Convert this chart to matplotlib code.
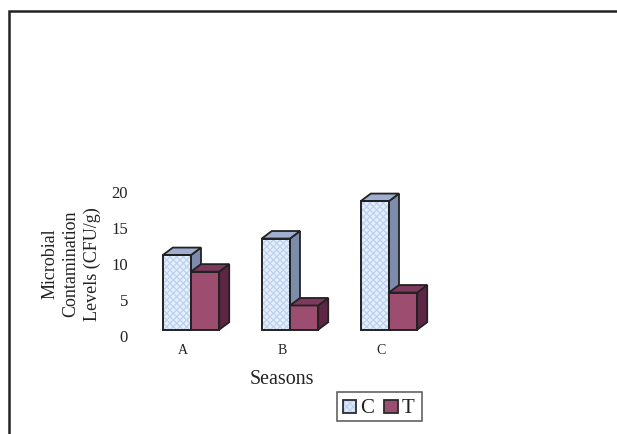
import matplotlib
matplotlib.use("Agg")
import matplotlib.pyplot as plt
from matplotlib.lines import Line2D
from matplotlib.patches import Polygon, Rectangle

plt.rcParams['font.family'] = ['Liberation Serif', 'DejaVu Serif']
plt.rcParams['hatch.linewidth'] = 0.9

# data
seasons = ['A', 'B', 'C']
series_c = [11.1, 13.4, 18.6]
series_t = [8.8, 4.1, 5.9]
y_ticks = [0, 5, 10, 15, 20]

# layout (pixels of the 617x435 image)
W, H = 617, 435
PX_X = 99.0    # pixels per category
PX_Y = 7.2     # pixels per value unit
BASE = 0.74    # front floor of the 3D bars sits above the 0 label
BAR = 0.285
DX, DY = 10 / PX_X, 7.5 / PX_Y
EDGE = '#222222'
TEXT = '#222222'

fig = plt.figure(figsize=(W / 100, H / 100), dpi=100)
fig.patch.set_facecolor('white')

# axes: x=0 at 191px, y=0 at 336px
left, right, top, bottom = 130, 440, 180, 345
ax = fig.add_axes([left / W, 1 - bottom / H, (right - left) / W, (bottom - top) / H])
ax.set_xlim((left - 191) / PX_X, (right - 191) / PX_X)
ax.set_ylim((336 - bottom) / PX_Y, (336 - top) / PX_Y)
ax.patch.set_alpha(0)
for s in ax.spines.values():
    s.set_visible(False)


def bar3d(x0, w, v, front, side, roof, textured=False, z=2):
    # front face
    if textured:
        ax.bar(x0, v - BASE, w, bottom=BASE, align='edge', color=front,
               edgecolor='#bcd2f0', linewidth=0, hatch='xxxxx', zorder=z)
        ax.bar(x0, v - BASE, w, bottom=BASE, align='edge', fill=False,
               edgecolor=EDGE, linewidth=1.4, zorder=z + 0.1)
    else:
        ax.bar(x0, v - BASE, w, bottom=BASE, align='edge', color=front,
               edgecolor=EDGE, linewidth=1.4, zorder=z)
    # side and roof
    ax.add_patch(Polygon([(x0 + w, BASE), (x0 + w + DX, BASE + DY),
                          (x0 + w + DX, v + DY), (x0 + w, v)],
                         facecolor=side, edgecolor=EDGE, linewidth=1.3, zorder=z))
    ax.add_patch(Polygon([(x0, v), (x0 + DX, v + DY), (x0 + w + DX, v + DY), (x0 + w, v)],
                         facecolor=roof, edgecolor=EDGE, linewidth=1.3, zorder=z))


for i in range(len(seasons)):
    bar3d(i - BAR, BAR, series_c[i], '#e6effb', '#7d8cab', '#a0aed0', textured=True, z=2)
    bar3d(i, BAR, series_t[i], '#9c4d70', '#5e2644', '#7e3a5e', z=3)

# ticks
ax.set_xticks([i - 0.08 for i in range(len(seasons))])
ax.set_xticklabels(seasons, fontsize=10, color=TEXT)
ax.set_yticks(y_ticks)
ax.set_yticklabels([str(t) for t in y_ticks], fontsize=12, color=TEXT)
ax.tick_params(length=0, pad=1.5)
ax.tick_params(axis='x', pad=-0.5)

# axis titles
fig.text(282 / W, 1 - 380 / H, 'Seasons', ha='center', va='center', fontsize=14.4, color=TEXT)
fig.text(71 / W, 1 - 264 / H, 'Microbial\nContamination\nLevels (CFU/g)', ha='center',
         va='center', rotation=90, fontsize=13, linespacing=1.3, multialignment='center',
         color=TEXT)

# outer frame, open at right and bottom
fig.add_artist(Line2D([9 / W, 9 / W, 1], [0, 1 - 11.5 / H, 1 - 11.5 / H], color='#222222',
                      linewidth=1.8, solid_joinstyle='miter'))

# legend box
fig.add_artist(Rectangle((337 / W, 1 - 421.5 / H), 85 / W, 29 / H, facecolor='white',
                         edgecolor='#555555', linewidth=1.1))
fig.add_artist(Rectangle((342.5 / W, 1 - 414.3 / H), 13.5 / W, 13.5 / H, facecolor='#dbe6f6',
                         edgecolor='#bcd2f0', linewidth=0, hatch='xxxxx'))
fig.add_artist(Rectangle((342.5 / W, 1 - 414.3 / H), 13.5 / W, 13.5 / H, fill=False,
                         edgecolor='#2a2a3a', linewidth=1.3))
fig.add_artist(Rectangle((384.5 / W, 1 - 414.3 / H), 13.5 / W, 13.5 / H, facecolor='#9c4d70',
                         edgecolor='#2a2a2a', linewidth=1.3))
fig.text(360 / W, 1 - 409 / H, 'C', ha='left', va='center', fontsize=15, color=TEXT)
fig.text(402 / W, 1 - 409 / H, 'T', ha='left', va='center', fontsize=15, color=TEXT)

fig.savefig('out.png', dpi=100)
